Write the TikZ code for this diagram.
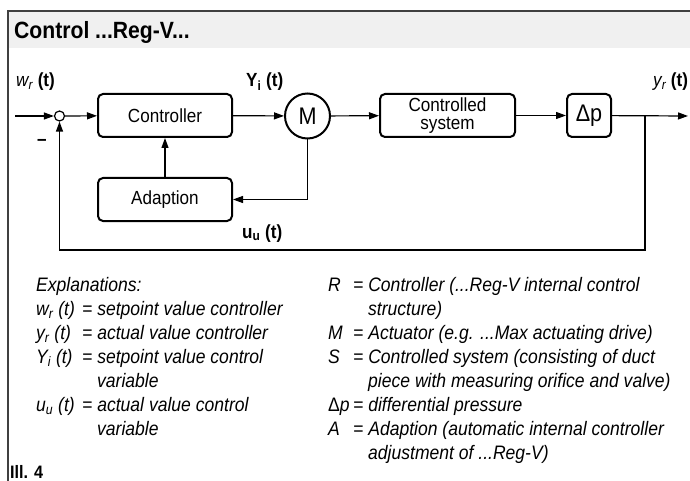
\documentclass[tikz,border=0pt]{standalone}
\usepackage{fontspec}
\setmainfont[FakeStretch=0.9]{Liberation Sans}
\usetikzlibrary{arrows.meta}
\definecolor{framecol}{HTML}{404040}
\definecolor{bandcol}{HTML}{F0F0F0}
\tikzset{
  blk/.style={draw, line width=2pt, rounded corners=5pt, minimum height=43pt, inner sep=0pt, align=center, font=\fontsize{19}{18.5}\selectfont},
  conn/.style={line width=1.2pt},
  arr/.style={conn, -{Triangle[length=10pt,width=7pt]}},
  lbl/.style={anchor=base west, inner sep=0pt, font=\fontsize{19}{22}\selectfont},
  expl/.style={anchor=base west, inner sep=0pt, font=\fontsize{19.5}{22}\selectfont\itshape},
}
\begin{document}
\begin{tikzpicture}[x=1pt,y=-1pt]
\useasboundingbox (0,0) rectangle (690,481);
\clip (0,0) rectangle (690,481);
\fill[bandcol] (8,11) rectangle (700,48);
\draw[framecol, line width=2pt] (8,500) -- (8,11) -- (700,11);
\node[anchor=base west, inner sep=0pt, font=\fontsize{23.5}{26}\selectfont\bfseries] (title) at (14,39) {Control ...Reg-V...};

% blocks
\node[draw, circle, line width=1.2pt, minimum size=10pt, inner sep=0pt] (sum) at (59.5,116) {};
\node[blk, minimum width=134pt] (ctrl) at (165,115.5) {Controller};
\node[blk, minimum width=134pt] (adapt) at (165,199.5) {Adaption};
\node[draw, circle, line width=2pt, minimum size=45pt, inner sep=0pt, font=\fontsize{24}{24}\selectfont] (M) at (307.5,116) {M};
\node[blk, minimum width=135pt] (cs) at (447.5,115.5) {Controlled\\system};
\node[blk, minimum width=44pt, font=\fontsize{24}{24}\selectfont] (dp) at (589,115.5) {Δp};

% connectors
\coordinate (in) at (15,116);
\coordinate (out) at (688,116);
\coordinate (br) at (645,116);
\coordinate (fb) at (645,250);
\draw[arr] (in) -- (sum);
\draw[arr] (sum) -- (ctrl);
\draw[arr] (ctrl) -- (M);
\draw[arr] (M) -- (cs);
\draw[arr] (cs) -- (dp);
\draw[arr] (dp) -- (out);
\draw[arr] (adapt) -- (ctrl);
\draw[arr] (M.south) |- (adapt);
\draw[arr] (br) -- (fb) -| (sum.south);

% labels
\node[lbl] (wr) at (16,87) {\textit{w\textsubscript{r}} \textbf{(t)}};
\node[lbl, font=\fontsize{19}{22}\selectfont\bfseries] (yi) at (246,87) {Y\textsubscript{i} (t)};
\node[lbl, font=\fontsize{19}{22}\selectfont\bfseries] (uu) at (242,238) {u\textsubscript{u} (t)};
\node[lbl] (yr) at (653,87) {\textit{y\textsubscript{r}} \textbf{(t)}};
\node[lbl, font=\fontsize{19}{22}\selectfont\bfseries] (minus) at (37,146) {–};

% explanations, left column
\node[expl] (e0) at (36,291) {Explanations:};
\node[expl] (e1) at (36,315) {w\textsubscript{r} (t)};
\node[expl] (e1d) at (82,315) {= setpoint value controller};
\node[expl] (e2) at (36,339) {y\textsubscript{r} (t)};
\node[expl] (e2d) at (82,339) {= actual value controller};
\node[expl] (e3) at (36,363) {Y\textsubscript{i} (t)};
\node[expl] (e3d) at (82,363) {= setpoint value control};
\node[expl] (e3e) at (97,387) {variable};
\node[expl] (e4) at (36,411) {u\textsubscript{u} (t)};
\node[expl] (e4d) at (82,411) {= actual value control};
\node[expl] (e4e) at (97,435) {variable};

% explanations, right column
\node[expl] (r1) at (328,291) {R};
\node[expl] (r1d) at (353,291) {= Controller (...Reg-V internal control};
\node[expl] (r1e) at (368,315) {structure)};
\node[expl] (r2) at (328,339) {M};
\node[expl] (r2d) at (353,339) {= Actuator (e.g. ...Max actuating drive)};
\node[expl] (r3) at (328,363) {S};
\node[expl] (r3d) at (353,363) {= Controlled system (consisting of duct};
\node[expl] (r3e) at (368,387) {piece with measuring orifice and valve)};
\node[expl] (r4) at (328,411) {{\upshape Δ}p};
\node[expl] (r4d) at (353,411) {= differential pressure};
\node[expl] (r5) at (328,435) {A};
\node[expl] (r5d) at (353,435) {= Adaption (automatic internal controller};
\node[expl] (r5e) at (368,459) {adjustment of ...Reg-V)};

\node[anchor=base west, inner sep=0pt, font=\fontsize{18}{20}\selectfont\bfseries] (ill) at (10,478) {Ill. 4};
\end{tikzpicture}
\end{document}
